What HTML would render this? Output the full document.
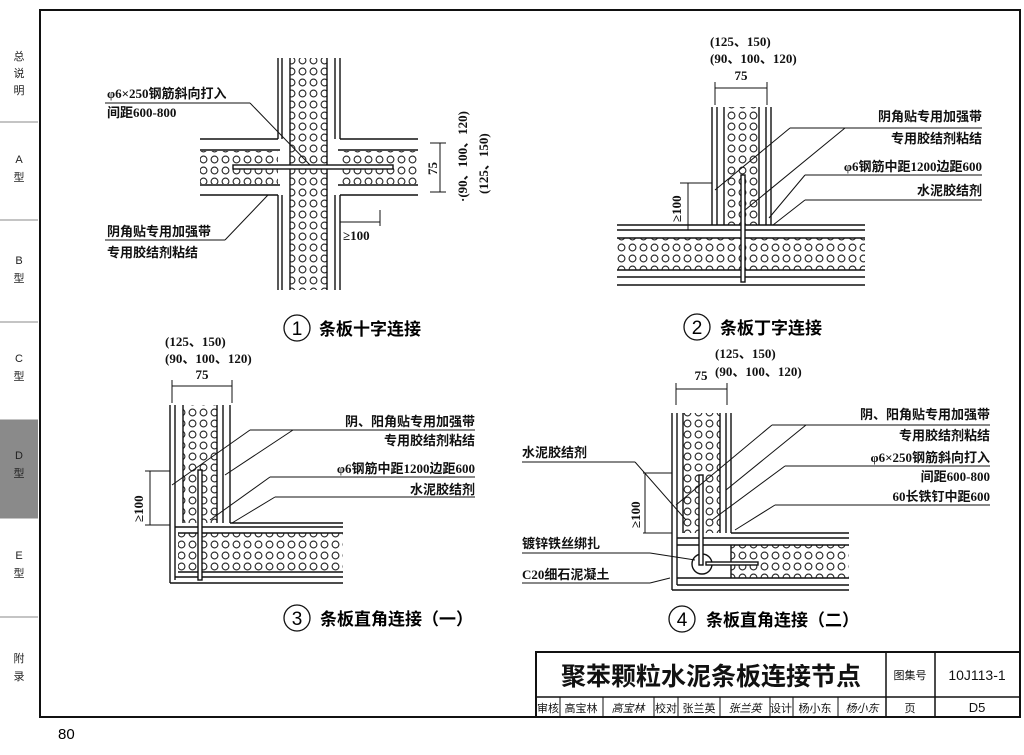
<!DOCTYPE html>
<html><head><meta charset="utf-8">
<style>
body{margin:0;background:#fff;}
svg{display:block;font-family:"Liberation Serif","Noto Sans CJK SC",serif;}
.s{font-family:"Liberation Sans","Noto Sans CJK SC",sans-serif;}
.l{font-weight:bold;}
</style></head><body>
<svg width="1024" height="755" viewBox="0 0 1024 755" xmlns="http://www.w3.org/2000/svg">
<defs>
<pattern id="c" width="11" height="11" patternUnits="userSpaceOnUse">
<circle cx="5.5" cy="5.5" r="3.4" fill="none" stroke="#222" stroke-width="1.1"/>
</pattern>
</defs>
<rect width="1024" height="755" fill="#fff"/>
<!-- sidebar -->
<rect x="0" y="420" width="38" height="98" fill="#8a8a8a"/>
<g stroke="#888" stroke-width="1">
<line x1="0" y1="122" x2="38" y2="122"/><line x1="0" y1="220" x2="38" y2="220"/>
<line x1="0" y1="322" x2="38" y2="322"/><line x1="0" y1="420" x2="38" y2="420"/>
<line x1="0" y1="518" x2="38" y2="518"/><line x1="0" y1="617" x2="38" y2="617"/>
</g>
<g class="s" font-size="11" text-anchor="middle" fill="#222">
<text x="19" y="60">总</text><text x="19" y="77">说</text><text x="19" y="94">明</text>
<text x="19" y="163">A</text><text x="19" y="181">型</text>
<text x="19" y="264">B</text><text x="19" y="282">型</text>
<text x="19" y="362">C</text><text x="19" y="380">型</text>
<text x="19" y="459">D</text><text x="19" y="477">型</text>
<text x="19" y="559">E</text><text x="19" y="577">型</text>
<text x="19" y="662">附</text><text x="19" y="680">录</text>
</g>
<rect x="40" y="10" width="980" height="707" fill="none" stroke="#111" stroke-width="2"/>
<text x="58" y="739" font-size="15" class="s">80</text>

<!-- title block -->
<g stroke="#111" fill="none">
<rect x="536" y="652" width="484" height="65" stroke-width="2"/>
<line x1="536" y1="697" x2="1020" y2="697" stroke-width="1.5"/>
<line x1="886" y1="652" x2="886" y2="717" stroke-width="1.5"/>
<line x1="935" y1="652" x2="935" y2="717" stroke-width="1.5"/>
<g stroke-width="1"><line x1="560" y1="697" x2="560" y2="717"/><line x1="603" y1="697" x2="603" y2="717"/><line x1="654" y1="697" x2="654" y2="717"/><line x1="678" y1="697" x2="678" y2="717"/><line x1="720" y1="697" x2="720" y2="717"/><line x1="770" y1="697" x2="770" y2="717"/><line x1="793" y1="697" x2="793" y2="717"/><line x1="838" y1="697" x2="838" y2="717"/></g>
</g>
<g class="s" fill="#111">
<text x="711" y="685" font-size="25" text-anchor="middle" font-weight="bold">聚苯颗粒水泥条板连接节点</text>
<text x="910" y="679" font-size="11" text-anchor="middle">图集号</text>
<text x="977" y="680" font-size="14" text-anchor="middle">10J113-1</text>
<g font-size="11" text-anchor="middle">
<text x="548" y="712">审核</text><text x="581" y="712">高宝林</text><text x="628" y="712" font-style="italic">高宝林</text>
<text x="666" y="712">校对</text><text x="699" y="712">张兰英</text><text x="745" y="712" font-style="italic">张兰英</text>
<text x="781" y="712">设计</text><text x="815" y="712">杨小东</text><text x="862" y="712" font-style="italic">杨小东</text>
<text x="910" y="712">页</text></g>
<text x="977" y="712" font-size="13" text-anchor="middle">D5</text>
</g>

<!-- Diagram 1 -->
<g stroke="#111" stroke-width="1.4" fill="none">
<rect x="290" y="58" width="37" height="232" fill="url(#c)" stroke="none"/>
<rect x="200" y="151" width="78" height="33" fill="url(#c)" stroke="none"/>
<rect x="340" y="151" width="78" height="33" fill="url(#c)" stroke="none"/>
<line x1="278" y1="58" x2="278" y2="139"/><line x1="282" y1="58" x2="282" y2="139"/>
<line x1="278" y1="195" x2="278" y2="290"/><line x1="282" y1="195" x2="282" y2="290"/>
<line x1="290" y1="58" x2="290" y2="290"/><line x1="327" y1="58" x2="327" y2="290"/>
<line x1="335" y1="58" x2="335" y2="139"/><line x1="340" y1="58" x2="340" y2="139"/>
<line x1="335" y1="195" x2="335" y2="290"/><line x1="340" y1="195" x2="340" y2="290"/>
<line x1="200" y1="139" x2="278" y2="139"/><line x1="200" y1="150" x2="280" y2="150"/>
<line x1="200" y1="185" x2="280" y2="185"/><line x1="200" y1="195" x2="278" y2="195"/>
<line x1="340" y1="139" x2="418" y2="139"/><line x1="338" y1="150" x2="418" y2="150"/>
<line x1="338" y1="185" x2="418" y2="185"/><line x1="340" y1="195" x2="418" y2="195"/>
<rect x="233" y="165" width="160" height="4" fill="#fff"/>
<line x1="105" y1="103" x2="250" y2="103" stroke-width="1"/><line x1="250" y1="103" x2="310" y2="165" stroke-width="1"/>
<line x1="105" y1="240" x2="225" y2="240" stroke-width="1"/><line x1="225" y1="240" x2="268" y2="195" stroke-width="1"/>
<line x1="440" y1="143" x2="440" y2="192" stroke-width="1"/>
<line x1="430" y1="143" x2="446" y2="143" stroke-width="1"/><line x1="430" y1="192" x2="446" y2="192" stroke-width="1"/>
<line x1="340" y1="222" x2="380" y2="222" stroke-width="1"/><line x1="380" y1="210" x2="380" y2="226" stroke-width="1"/>
</g>
<g font-size="13" fill="#111" class="l">
<text x="107" y="98">φ6×250钢筋斜向打入</text><text x="107" y="117">间距600-800</text>
<text x="107" y="236">阴角贴专用加强带</text><text x="107" y="257">专用胶结剂粘结</text>
<text x="343" y="240">≥100</text>
<text transform="translate(437,175) rotate(-90)">75</text>
<text transform="translate(467,202) rotate(-90)">·(90、100、120)</text>
<text transform="translate(488,194) rotate(-90)">(125、150)</text>
</g>
<circle cx="297" cy="328" r="13" fill="none" stroke="#111" stroke-width="1.3"/>
<text x="297" y="335" font-size="19" text-anchor="middle" class="s">1</text>
<text x="319" y="335" font-size="17" class="s" font-weight="bold">条板十字连接</text>

<!-- Diagram 2 -->
<g stroke="#111" stroke-width="1.4" fill="none">
<rect x="724" y="107" width="35" height="118" fill="url(#c)" stroke="none"/>
<rect x="617" y="238" width="248" height="32" fill="url(#c)" stroke="none"/>
<line x1="712" y1="107" x2="712" y2="225"/><line x1="717" y1="107" x2="717" y2="225"/>
<line x1="724" y1="107" x2="724" y2="225"/><line x1="759" y1="107" x2="759" y2="225"/>
<line x1="766" y1="107" x2="766" y2="225"/><line x1="771" y1="107" x2="771" y2="225"/>
<line x1="617" y1="225" x2="865" y2="225"/><line x1="617" y1="230" x2="865" y2="230"/>
<line x1="617" y1="238" x2="865" y2="238"/><line x1="617" y1="270" x2="865" y2="270"/>
<line x1="617" y1="277" x2="865" y2="277"/><line x1="617" y1="285" x2="865" y2="285"/>
<rect x="741" y="175" width="4" height="107" fill="#fff"/>
<line x1="715" y1="88" x2="767" y2="88" stroke-width="1"/>
<line x1="715" y1="82" x2="715" y2="105" stroke-width="1"/><line x1="767" y1="82" x2="767" y2="105" stroke-width="1"/>
<line x1="680" y1="183" x2="712" y2="183" stroke-width="1"/><line x1="688" y1="183" x2="688" y2="230" stroke-width="1"/>
<g stroke-width="1">
<line x1="790" y1="128" x2="982" y2="128"/><line x1="790" y1="128" x2="715" y2="190"/>
<line x1="845" y1="128" x2="745" y2="210"/>
<line x1="805" y1="175" x2="982" y2="175"/><line x1="805" y1="175" x2="769" y2="218"/>
<line x1="805" y1="200" x2="982" y2="200"/><line x1="805" y1="200" x2="773" y2="225"/>
</g>
</g>
<g font-size="13" fill="#111" class="l">
<text x="710" y="46">(125、150)</text><text x="710" y="63">(90、100、120)</text>
<text x="741" y="80" text-anchor="middle">75</text>
<text x="982" y="121" text-anchor="end">阴角贴专用加强带</text>
<text x="982" y="143" text-anchor="end">专用胶结剂粘结</text>
<text x="982" y="171" text-anchor="end">φ6钢筋中距1200边距600</text>
<text x="982" y="195" text-anchor="end">水泥胶结剂</text>
<text transform="translate(681,222) rotate(-90)">≥100</text>
</g>
<circle cx="697" cy="327" r="13" fill="none" stroke="#111" stroke-width="1.3"/>
<text x="697" y="334" font-size="19" text-anchor="middle" class="s">2</text>
<text x="720" y="334" font-size="17" class="s" font-weight="bold">条板丁字连接</text>

<!-- Diagram 3 -->
<g stroke="#111" stroke-width="1.4" fill="none">
<rect x="183" y="405" width="34" height="118" fill="url(#c)" stroke="none"/>
<rect x="178" y="533" width="165" height="39" fill="url(#c)" stroke="none"/>
<line x1="170" y1="405" x2="170" y2="583"/><line x1="175" y1="405" x2="175" y2="580"/>
<line x1="183" y1="405" x2="183" y2="523"/><line x1="217" y1="405" x2="217" y2="523"/>
<line x1="223" y1="405" x2="223" y2="523"/><line x1="230" y1="405" x2="230" y2="523"/>
<line x1="230" y1="523" x2="343" y2="523"/><line x1="175" y1="527" x2="343" y2="527"/>
<line x1="178" y1="533" x2="343" y2="533"/><line x1="178" y1="572" x2="343" y2="572"/>
<line x1="175" y1="577" x2="343" y2="577"/><line x1="170" y1="583" x2="343" y2="583"/>
<rect x="198" y="470" width="4" height="110" fill="#fff"/>
<line x1="172" y1="386" x2="232" y2="386" stroke-width="1"/>
<line x1="172" y1="380" x2="172" y2="403" stroke-width="1"/><line x1="232" y1="380" x2="232" y2="403" stroke-width="1"/>
<line x1="145" y1="471" x2="170" y2="471" stroke-width="1"/><line x1="145" y1="525" x2="170" y2="525" stroke-width="1"/>
<line x1="150" y1="471" x2="150" y2="525" stroke-width="1"/>
<g stroke-width="1">
<line x1="250" y1="430" x2="475" y2="430"/><line x1="250" y1="430" x2="172" y2="485"/>
<line x1="293" y1="430" x2="225" y2="475"/>
<line x1="270" y1="477" x2="475" y2="477"/><line x1="270" y1="477" x2="210" y2="520"/>
<line x1="275" y1="497" x2="475" y2="497"/><line x1="275" y1="497" x2="232" y2="523"/>
</g>
</g>
<g font-size="13" fill="#111" class="l">
<text x="165" y="346">(125、150)</text><text x="165" y="363">(90、100、120)</text>
<text x="202" y="379" text-anchor="middle">75</text>
<text x="475" y="426" text-anchor="end">阴、阳角贴专用加强带</text>
<text x="475" y="445" text-anchor="end">专用胶结剂粘结</text>
<text x="475" y="473" text-anchor="end">φ6钢筋中距1200边距600</text>
<text x="475" y="494" text-anchor="end">水泥胶结剂</text>
<text transform="translate(143,522) rotate(-90)">≥100</text>
</g>
<circle cx="297" cy="618" r="13" fill="none" stroke="#111" stroke-width="1.3"/>
<text x="297" y="625" font-size="19" text-anchor="middle" class="s">3</text>
<text x="320" y="625" font-size="17" class="s" font-weight="bold">条板直角连接（一）</text>

<!-- Diagram 4 -->
<g stroke="#111" stroke-width="1.4" fill="none">
<rect x="683" y="413" width="37" height="120" fill="url(#c)" stroke="none"/>
<rect x="731" y="545" width="118" height="33" fill="url(#c)" stroke="none"/>
<line x1="672" y1="413" x2="672" y2="590"/><line x1="677" y1="413" x2="677" y2="585"/>
<line x1="683" y1="413" x2="683" y2="533"/><line x1="720" y1="413" x2="720" y2="533"/>
<line x1="726" y1="413" x2="726" y2="533"/><line x1="731" y1="413" x2="731" y2="533"/>
<line x1="731" y1="533" x2="849" y2="533"/><line x1="677" y1="538" x2="849" y2="538"/>
<line x1="677" y1="545" x2="849" y2="545"/><line x1="731" y1="545" x2="731" y2="578"/>
<line x1="677" y1="578" x2="849" y2="578"/><line x1="677" y1="585" x2="849" y2="585"/>
<line x1="672" y1="590" x2="849" y2="590"/>
<circle cx="702" cy="564" r="10"/>
<rect x="699" y="475" width="4" height="90" fill="#fff"/>
<rect x="706" y="562" width="52" height="3" fill="#fff"/>
<line x1="676" y1="389" x2="727" y2="389" stroke-width="1"/>
<line x1="676" y1="383" x2="676" y2="405" stroke-width="1"/><line x1="727" y1="383" x2="727" y2="405" stroke-width="1"/>
<line x1="643" y1="473" x2="672" y2="473" stroke-width="1"/><line x1="643" y1="533" x2="672" y2="533" stroke-width="1"/>
<line x1="645" y1="473" x2="645" y2="533" stroke-width="1"/>
<g stroke-width="1">
<line x1="772" y1="425" x2="990" y2="425"/><line x1="772" y1="425" x2="676" y2="505"/>
<line x1="806" y1="425" x2="726" y2="490"/>
<line x1="785" y1="466" x2="990" y2="466"/><line x1="785" y1="466" x2="712" y2="520"/>
<line x1="775" y1="505" x2="990" y2="505"/><line x1="775" y1="505" x2="735" y2="530"/>
<line x1="522" y1="462" x2="635" y2="462"/><line x1="635" y1="462" x2="686" y2="520"/>
<line x1="522" y1="553" x2="650" y2="553"/><line x1="650" y1="553" x2="695" y2="560"/>
<line x1="522" y1="583" x2="650" y2="583"/><line x1="650" y1="583" x2="670" y2="578"/>
</g>
</g>
<g font-size="13" fill="#111" class="l">
<text x="715" y="358">(125、150)</text><text x="715" y="376">(90、100、120)</text>
<text x="701" y="380" text-anchor="middle">75</text>
<text x="990" y="419" text-anchor="end">阴、阳角贴专用加强带</text>
<text x="990" y="440" text-anchor="end">专用胶结剂粘结</text>
<text x="990" y="462" text-anchor="end">φ6×250钢筋斜向打入</text>
<text x="990" y="481" text-anchor="end">间距600-800</text>
<text x="990" y="501" text-anchor="end">60长铁钉中距600</text>
<text x="522" y="457">水泥胶结剂</text>
<text x="522" y="548">镀锌铁丝绑扎</text>
<text x="522" y="579">C20细石泥凝土</text>
<text transform="translate(640,528) rotate(-90)">≥100</text>
</g>
<circle cx="682" cy="619" r="13" fill="none" stroke="#111" stroke-width="1.3"/>
<text x="682" y="626" font-size="19" text-anchor="middle" class="s">4</text>
<text x="706" y="626" font-size="17" class="s" font-weight="bold">条板直角连接（二）</text>
</svg>
</body></html>
